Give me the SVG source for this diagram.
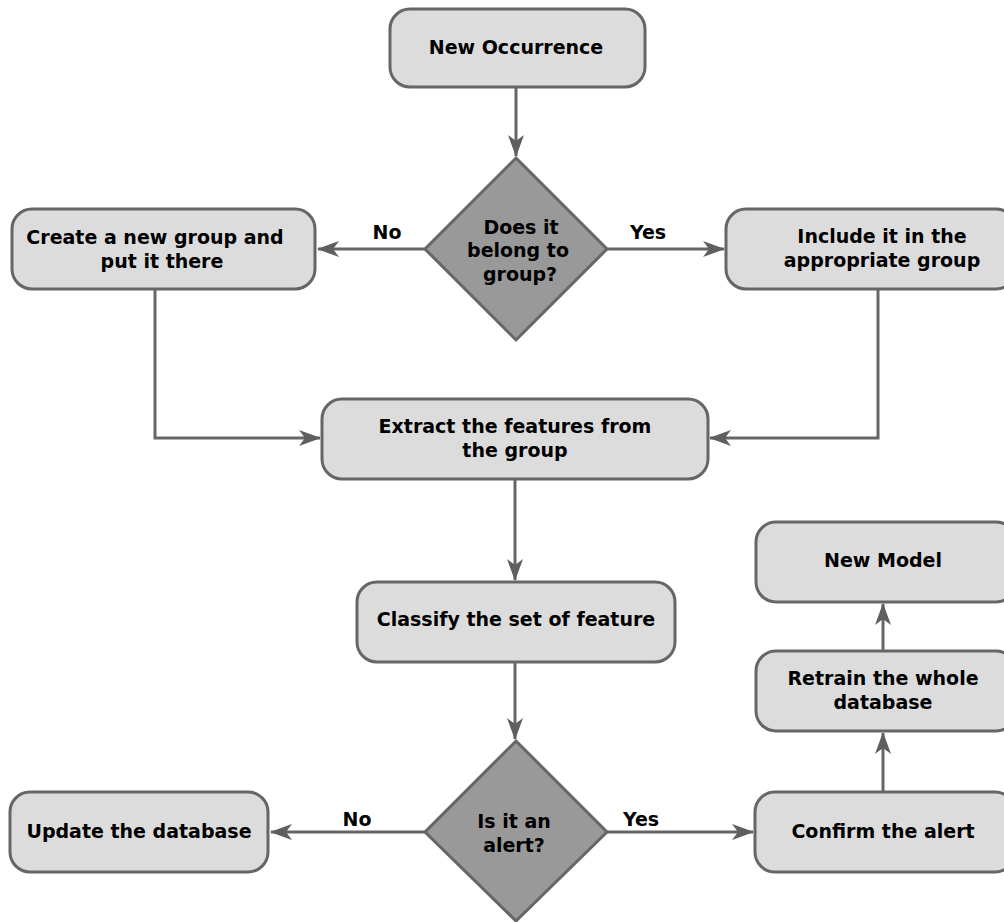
<svg xmlns="http://www.w3.org/2000/svg" width="1004" height="922" viewBox="0 0 1004 922">
  <style>
    .box { fill: #dcdcdc; stroke: #666666; stroke-width: 3; }
    .dec { fill: #999999; stroke: #666666; stroke-width: 3; }
    .lbl { font-family: "DejaVu Sans", "Liberation Sans", sans-serif; font-weight: bold; font-size: 19px; fill: #000000; text-anchor: middle; }
    .edge { fill: none; stroke: #666666; stroke-width: 3; }
  </style>
  <defs>
    <marker id="arrow" viewBox="0 0 22 16" refX="21" refY="8" markerWidth="22" markerHeight="16" markerUnits="userSpaceOnUse" orient="auto">
      <path d="M0,0 L22,8 L0,16 L6,8 z" fill="#5f5f5f"/>
    </marker>
  </defs>
  <rect width="1004" height="922" fill="#ffffff"/>

  <g id="connectors">
    <path class="edge" d="M516,88 V156" marker-end="url(#arrow)"/>
    <path class="edge" d="M425,249 H318" marker-end="url(#arrow)"/>
    <path class="edge" d="M607,249 H724" marker-end="url(#arrow)"/>
    <path class="edge" d="M155,290 V438 H320" marker-end="url(#arrow)"/>
    <path class="edge" d="M878,290 V438 H710" marker-end="url(#arrow)"/>
    <path class="edge" d="M515,480 V580" marker-end="url(#arrow)"/>
    <path class="edge" d="M515,663 V739" marker-end="url(#arrow)"/>
    <path class="edge" d="M425,832 H271" marker-end="url(#arrow)"/>
    <path class="edge" d="M607,832 H753" marker-end="url(#arrow)"/>
    <path class="edge" d="M883,792 V733" marker-end="url(#arrow)"/>
    <path class="edge" d="M883,651 V604" marker-end="url(#arrow)"/>
    <text class="lbl" x="387" y="239">No</text>
    <text class="lbl" x="648" y="239">Yes</text>
    <text class="lbl" x="357" y="826">No</text>
    <text class="lbl" x="641" y="826">Yes</text>
  </g>

  <g id="new-occurrence">
    <rect class="box" x="390" y="9" width="255" height="78" rx="20"/>
    <text class="lbl" x="516" y="54">New Occurrence</text>
  </g>

  <g id="belongs-to-group">
    <polygon class="dec" points="516,158 607,249 516,340 425,249"/>
    <text class="lbl" x="521" y="234">Does it</text>
    <text class="lbl" x="518" y="257">belong to</text>
    <text class="lbl" x="520" y="281">group?</text>
  </g>

  <g id="create-group">
    <rect class="box" x="12" y="209" width="303" height="80" rx="20"/>
    <text class="lbl" x="155" y="244">Create a new group and</text>
    <text class="lbl" x="162" y="268">put it there</text>
  </g>

  <g id="include-group">
    <rect class="box" x="726" y="209" width="290" height="80" rx="20"/>
    <text class="lbl" x="882" y="243">Include it in the</text>
    <text class="lbl" x="882" y="267">appropriate group</text>
  </g>

  <g id="extract-features">
    <rect class="box" x="322" y="399" width="386" height="80" rx="20"/>
    <text class="lbl" x="515" y="433">Extract the features from</text>
    <text class="lbl" x="515" y="457">the group</text>
  </g>

  <g id="classify">
    <rect class="box" x="357" y="582" width="318" height="80" rx="20"/>
    <text class="lbl" x="516" y="626">Classify the set of feature</text>
  </g>

  <g id="is-alert">
    <polygon class="dec" points="516,741 607,832 516,921 425,832"/>
    <text class="lbl" x="514" y="828">Is it an</text>
    <text class="lbl" x="514" y="852">alert?</text>
  </g>

  <g id="update-database">
    <rect class="box" x="10" y="792" width="258" height="80" rx="20"/>
    <text class="lbl" x="139" y="838">Update the database</text>
  </g>

  <g id="confirm-alert">
    <rect class="box" x="755" y="792" width="260" height="80" rx="20"/>
    <text class="lbl" x="883" y="838">Confirm the alert</text>
  </g>

  <g id="retrain">
    <rect class="box" x="756" y="651" width="260" height="80" rx="20"/>
    <text class="lbl" x="883" y="685">Retrain the whole</text>
    <text class="lbl" x="883" y="709">database</text>
  </g>

  <g id="new-model">
    <rect class="box" x="756" y="522" width="260" height="80" rx="20"/>
    <text class="lbl" x="883" y="567">New Model</text>
  </g>
</svg>
